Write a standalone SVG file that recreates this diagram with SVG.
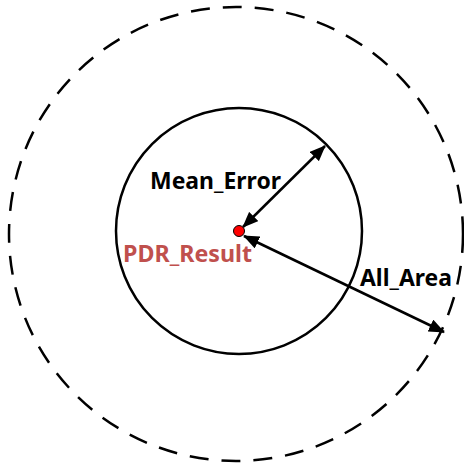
<svg xmlns="http://www.w3.org/2000/svg" width="464" height="466" viewBox="0 0 464 466">
  <style>
    .ring { fill: none; stroke: #000; stroke-width: 2.5; }
    .dashed { stroke-dasharray: 19 13; }
    .conn { fill: none; stroke: #000; stroke-width: 2.5; marker-start: url(#arrow); marker-end: url(#arrow); }
    .label { font-family: "Noto Sans", "Open Sans", sans-serif; font-weight: bold; font-size: 24px; }
  </style>
  <defs>
    <marker id="arrow" viewBox="0 0 16 13" refX="15" refY="6.5" markerWidth="16" markerHeight="13" markerUnits="userSpaceOnUse" orient="auto-start-reverse">
      <path d="M0,0 L16,6.5 L0,13 Z" fill="#000"/>
    </marker>
  </defs>

  <g id="all-area-boundary">
    <circle class="ring dashed" cx="236" cy="234" r="227"/>
  </g>

  <g id="mean-error-boundary">
    <circle class="ring" cx="239" cy="231" r="123"/>
  </g>

  <g id="connectors">
    <line class="conn" x1="243" y1="227" x2="325" y2="146"/>
    <line class="conn" x1="244" y1="236" x2="444" y2="332"/>
  </g>

  <g id="pdr-result">
    <circle cx="239" cy="231" r="5.5" fill="#ff0000" stroke="#000" stroke-width="1"/>
    <text class="label" x="123" y="262" fill="#c0504d" textLength="129" lengthAdjust="spacingAndGlyphs">PDR_Result</text>
  </g>

  <g id="mean-error-label">
    <text class="label" x="150" y="189" fill="#000" textLength="131" lengthAdjust="spacingAndGlyphs">Mean_Error</text>
  </g>

  <g id="all-area-label">
    <text class="label" x="360" y="286" fill="#000" textLength="92" lengthAdjust="spacingAndGlyphs">All_Area</text>
  </g>
</svg>
